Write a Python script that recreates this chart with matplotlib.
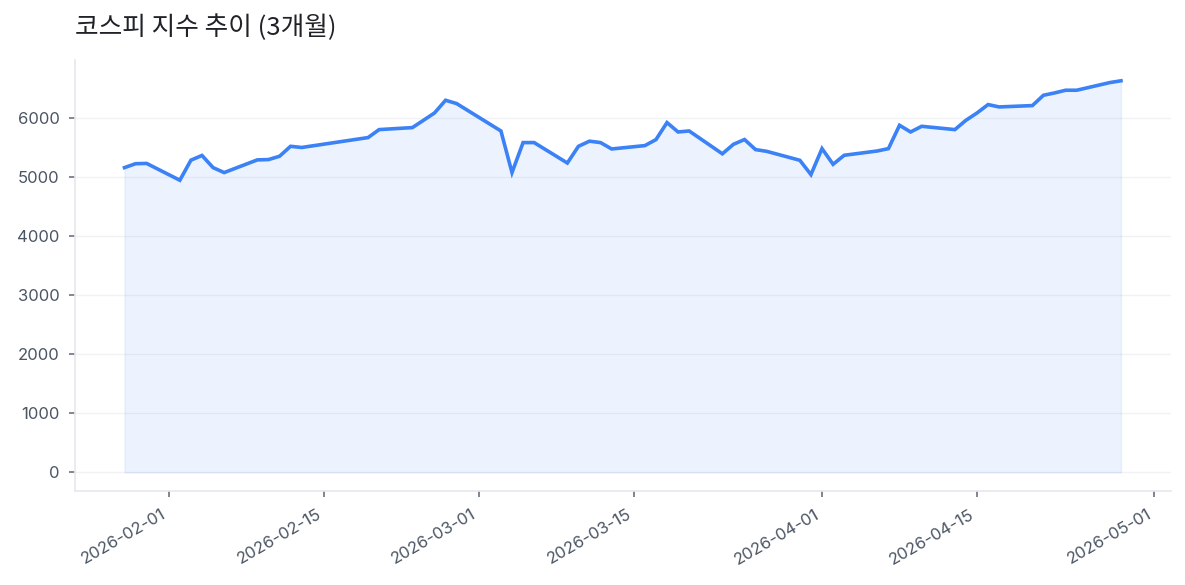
#!/usr/bin/env python3
# -*- coding: utf-8 -*-
"""KOSPI index trend over 3 months, area-under-line chart."""

import matplotlib
matplotlib.use("Agg")
import matplotlib.pyplot as plt
import matplotlib.dates as mdates
import pandas as pd

plt.rcParams["font.family"] = ["Inter", "Noto Sans CJK KR", "DejaVu Sans"]

dates = [
    "2026-01-28", "2026-01-29", "2026-01-30",
    "2026-02-02", "2026-02-03", "2026-02-04", "2026-02-05", "2026-02-06",
    "2026-02-09", "2026-02-10", "2026-02-11", "2026-02-12", "2026-02-13",
    "2026-02-19", "2026-02-20",
    "2026-02-23", "2026-02-24", "2026-02-25", "2026-02-26", "2026-02-27",
    "2026-03-03", "2026-03-04", "2026-03-05", "2026-03-06",
    "2026-03-09", "2026-03-10", "2026-03-11", "2026-03-12", "2026-03-13",
    "2026-03-16", "2026-03-17", "2026-03-18", "2026-03-19", "2026-03-20",
    "2026-03-23", "2026-03-24", "2026-03-25", "2026-03-26", "2026-03-27",
    "2026-03-30", "2026-03-31", "2026-04-01", "2026-04-02", "2026-04-03",
    "2026-04-06", "2026-04-07", "2026-04-08", "2026-04-09", "2026-04-10",
    "2026-04-13", "2026-04-14", "2026-04-15", "2026-04-16", "2026-04-17",
    "2026-04-20", "2026-04-21", "2026-04-22", "2026-04-23", "2026-04-24",
    "2026-04-27", "2026-04-28",
]
kospi = [
    5164, 5230, 5235,
    4950, 5290, 5370, 5164, 5080,
    5295, 5300, 5356, 5525, 5505,
    5673, 5808,
    5842, 5965, 6090, 6305, 6249,
    5785, 5080, 5588, 5588,
    5242, 5525, 5612, 5588, 5480,
    5537, 5638, 5927, 5768, 5785,
    5398, 5559, 5640, 5469, 5440,
    5288, 5046, 5486, 5220, 5373,
    5446, 5486, 5881, 5768, 5864,
    5808, 5966, 6090, 6232, 6192,
    6215, 6390, 6429, 6475, 6475,
    6605, 6635,
]

LINE = "#3b82f6"
TEXT = "#4b5563"
GRID = "#e5e7eb"


def main() -> int:
    x = pd.to_datetime(dates)

    fig, ax = plt.subplots(figsize=(11.85, 5.85), dpi=100)
    ax.fill_between(x, kospi, color=LINE, alpha=0.09)
    ax.plot(x, kospi, color=LINE, linewidth=2.6, solid_joinstyle="miter")

    ax.set_ylim(-322, 6983)
    ax.set_yticks(range(0, 7000, 1000))
    ax.grid(True, axis="y", color=GRID, alpha=0.5, linewidth=1.0)
    ax.set_axisbelow(True)

    ax.xaxis.set_major_locator(mdates.DayLocator(bymonthday=[1, 15]))
    ax.xaxis.set_major_formatter(mdates.DateFormatter("%Y-%m-%d"))
    for lab in ax.get_xticklabels():
        lab.set_rotation(30)
        lab.set_ha("right")

    for side in ["top", "right"]:
        ax.spines[side].set_visible(False)
    for side in ["left", "bottom"]:
        ax.spines[side].set_color(GRID)
        ax.spines[side].set_linewidth(1.2)
    ax.tick_params(colors=TEXT, labelsize=12, length=4, width=1.2, color="#6b7280", pad=7)

    ax.set_title("코스피 지수 추이 (3개월)", loc="left", fontsize=18.5, color="#1f2328",
                 pad=18, family=["Noto Sans CJK KR", "DejaVu Sans"])

    fig.subplots_adjust(left=0.063, right=0.988, top=0.897, bottom=0.16)
    fig.savefig("out.png", dpi=100)
    plt.close(fig)
    return 0


if __name__ == "__main__":
    raise SystemExit(main())
